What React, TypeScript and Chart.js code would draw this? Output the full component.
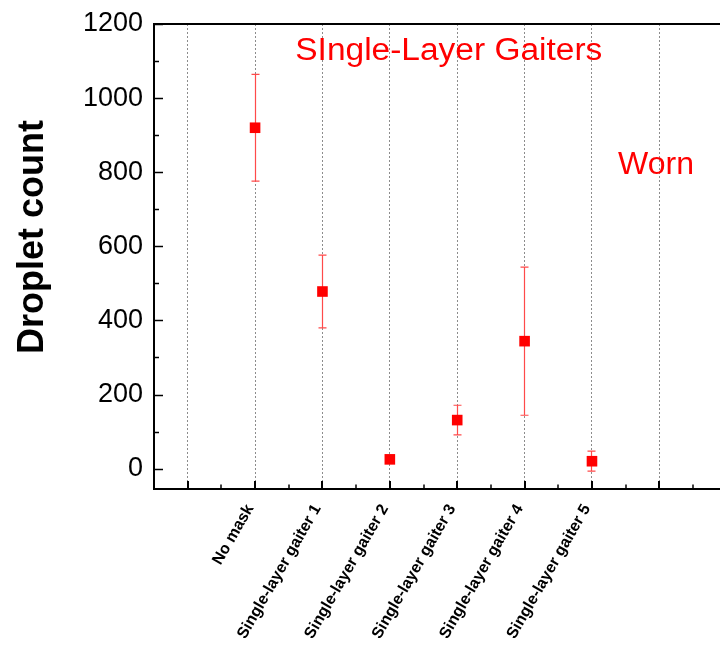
import React, { useEffect, useRef } from 'react';
import { Chart, registerables } from 'chart.js';

Chart.register(...registerables);

// ---- data ----
const categories = [
  'No mask',
  'Single-layer gaiter 1',
  'Single-layer gaiter 2',
  'Single-layer gaiter 3',
  'Single-layer gaiter 4',
  'Single-layer gaiter 5',
];
const categoryPositions = [1, 2, 3, 4, 5, 6];
const dropletMeans = [920, 478, 25, 131, 344, 20];
const dropletErrors = [144, 98, 4, 40, 200, 27];

const xTickValues = [-0.5, 0, 0.5, 1, 1.5, 2, 2.5, 3, 3.5, 4, 4.5, 5, 5.5, 6, 6.5, 7, 7.5];
const yTickValues = [0, 100, 200, 300, 400, 500, 600, 700, 800, 900, 1000, 1100, 1200];
const yLabelValues = [0, 200, 400, 600, 800, 1000, 1200];

const titleText = 'SIngle-Layer Gaiters';
const noteText = 'Worn';
const yAxisTitle = 'Droplet count';

const RED = '#ff0000';
const FONT = '"Liberation Sans", Arial, sans-serif';

const decorPlugin = {
  id: 'decor',
  beforeDatasetsDraw(chart: any) {
    const { ctx } = chart;
    const xs = chart.scales.x;
    const ys = chart.scales.y;
    ctx.save();
    ctx.strokeStyle = '#ff4a4a';
    ctx.lineWidth = 1.2;
    for (let i = 0; i < dropletMeans.length; i++) {
      const px = Math.round(xs.getPixelForValue(categoryPositions[i]) - 0.5) + 0.5;
      const top = ys.getPixelForValue(dropletMeans[i] + dropletErrors[i]);
      const bot = ys.getPixelForValue(dropletMeans[i] - dropletErrors[i]);
      ctx.beginPath();
      ctx.moveTo(px, top);
      ctx.lineTo(px, bot);
      ctx.moveTo(px - 4, top);
      ctx.lineTo(px + 4, top);
      ctx.moveTo(px - 4, bot);
      ctx.lineTo(px + 4, bot);
      ctx.stroke();
    }
    ctx.restore();
  },
  afterDraw(chart: any) {
    const { ctx, chartArea } = chart;
    const xs = chart.scales.x;
    const ys = chart.scales.y;
    ctx.save();
    ctx.strokeStyle = '#000';
    ctx.setLineDash([]);
    // frame lines
    ctx.lineWidth = 2;
    ctx.beginPath();
    ctx.moveTo(chartArea.left - 1, chartArea.top);
    ctx.lineTo(chartArea.right, chartArea.top);
    ctx.moveTo(chartArea.left, chartArea.top);
    ctx.lineTo(chartArea.left, chartArea.bottom + 1);
    ctx.moveTo(chartArea.left - 1, chartArea.bottom);
    ctx.lineTo(chartArea.right, chartArea.bottom);
    ctx.stroke();
    // inward x ticks
    for (const t of xs.ticks) {
      const px = Math.round(xs.getPixelForValue(t.value));
      const major = Number.isInteger(t.value);
      ctx.lineWidth = major ? 2 : 1.5;
      ctx.beginPath();
      ctx.moveTo(px, chartArea.bottom);
      ctx.lineTo(px, chartArea.bottom - (major ? 8 : 4.5));
      ctx.stroke();
    }
    // inward y ticks
    ctx.lineWidth = 1.5;
    for (const t of ys.ticks) {
      const py = Math.round(ys.getPixelForValue(t.value)) + 0.5;
      const major = t.value % 200 === 0;
      ctx.beginPath();
      ctx.moveTo(chartArea.left, py);
      ctx.lineTo(chartArea.left + (major ? 9 : 5), py);
      ctx.stroke();
    }
    // y axis title
    ctx.save();
    ctx.fillStyle = '#000';
    ctx.font = `bold 36px ${FONT}`;
    ctx.textAlign = 'center';
    ctx.textBaseline = 'alphabetic';
    ctx.translate(chartArea.left - 111, ys.getPixelForValue(625));
    ctx.rotate(-Math.PI / 2);
    ctx.fillText(yAxisTitle, 0, 0);
    ctx.restore();
    // texts
    ctx.fillStyle = RED;
    ctx.textAlign = 'center';
    ctx.textBaseline = 'alphabetic';
    ctx.font = `31px ${FONT}`;
    ctx.save();
    ctx.translate(xs.getPixelForValue(3.875), ys.getPixelForValue(1103));
    ctx.scale(1.08, 1);
    ctx.fillText(titleText, 0, 0);
    ctx.restore();
    ctx.font = `32px ${FONT}`;
    ctx.fillText(noteText, xs.getPixelForValue(6.95), ys.getPixelForValue(795));
    ctx.restore();
  },
};

export default function App() {
  const canvasRef = useRef<HTMLCanvasElement | null>(null);

  useEffect(() => {
    if (!canvasRef.current) return;
    const chart = new Chart(canvasRef.current, {
      type: 'scatter',
      data: {
        datasets: [
          {
            data: categoryPositions.map((x, i) => ({ x, y: dropletMeans[i] })),
            pointStyle: 'rect',
            pointRadius: 7.5,
            pointHoverRadius: 7.5,
            backgroundColor: RED,
            borderColor: RED,
            borderWidth: 0,
          },
        ],
      },
      options: {
        animation: false,
        responsive: false,
        devicePixelRatio: 1,
        layout: { autoPadding: false, padding: { top: 24, right: 0, left: 0, bottom: 0 } },
        plugins: {
          legend: { display: false },
          tooltip: { enabled: false },
          title: { display: false },
        },
        scales: {
          x: {
            type: 'linear',
            min: -0.5,
            max: 7.9,
            afterBuildTicks(scale: any) {
              scale.ticks = xTickValues.map((value) => ({ value }));
            },
            afterFit(scale: any) {
              scale.height = 158;
              scale.paddingLeft = 0;
              scale.paddingRight = 0;
            },
            grid: {
              drawTicks: false,
              color: (c: any) =>
                c.tick && Number.isInteger(c.tick.value) && c.tick.value >= 0 ? '#8c8c8c' : 'rgba(0,0,0,0)',
              lineWidth: 1,
            },
            border: { display: false, dash: [2, 2] },
            ticks: {
              autoSkip: false,
              maxRotation: 60,
              minRotation: 60,
              padding: 12,
              labelOffset: -5,
              color: '#000',
              font: { family: FONT, size: 16, weight: 'bold' },
              callback: (v: any) => {
                const idx = categoryPositions.indexOf(Number(v));
                return idx >= 0 ? categories[idx] : '';
              },
            },
          },
          y: {
            type: 'linear',
            min: -55,
            max: 1200,
            afterBuildTicks(scale: any) {
              scale.ticks = yTickValues.map((value) => ({ value }));
            },
            afterFit(scale: any) {
              scale.width = 154;
              scale.paddingTop = 0;
              scale.paddingBottom = 0;
            },
            grid: { display: false, drawTicks: false },
            border: { display: false },
            ticks: {
              autoSkip: false,
              padding: 11,
              color: '#000',
              font: { family: FONT, size: 27 },
              callback: (v: any) => (yLabelValues.includes(Number(v)) ? String(v) : ''),
            },
          },
        },
      },
      plugins: [decorPlugin],
    } as any);
    return () => chart.destroy();
  }, []);

  return (
    <div style={{ position: 'absolute', left: 0, top: 0, width: 720, height: 647, background: '#fff' }}>
      <canvas ref={canvasRef} width={720} height={647} style={{ width: 720, height: 647 }} />
    </div>
  );
}
